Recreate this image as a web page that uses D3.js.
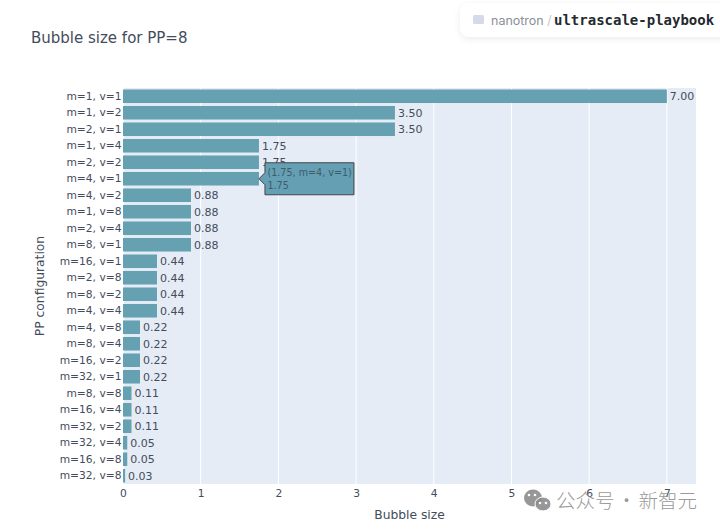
<!DOCTYPE html>
<html>
<head>
<meta charset="utf-8">
<script src="https://cdn.jsdelivr.net/npm/d3@7"></script>
<style>
  html, body { margin: 0; padding: 0; background: #fff; }
  svg { display: block; font-family: "DejaVu Sans", sans-serif; }
</style>
</head>
<body>
<svg width="720" height="530"></svg>
<script>
var configs = ["m=1, v=1","m=1, v=2","m=2, v=1","m=1, v=4","m=2, v=2","m=4, v=1","m=4, v=2","m=1, v=8",
  "m=2, v=4","m=8, v=1","m=16, v=1","m=2, v=8","m=8, v=2","m=4, v=4","m=4, v=8","m=8, v=4",
  "m=16, v=2","m=32, v=1","m=8, v=8","m=16, v=4","m=32, v=2","m=32, v=4","m=16, v=8","m=32, v=8"];
var bubbleSizes = [7, 3.5, 3.5, 1.75, 1.75, 1.75, 0.875, 0.875,
  0.875, 0.875, 0.4375, 0.4375, 0.4375, 0.4375, 0.21875, 0.21875,
  0.21875, 0.21875, 0.109375, 0.109375, 0.109375, 0.0546875, 0.0546875, 0.02734375];
var xTicks = [0, 1, 2, 3, 4, 5, 6, 7];
var hoverIndex = 5;

var textColor = "#444c5c";
var svg = d3.select("svg");

var xScale = d3.scaleLinear().domain([0, 7.375]).range([123, 696]);
var yScale = d3.scaleBand().domain(configs).range([88, 484]).paddingInner(0.18).paddingOuter(0.09);

svg.append("rect")
    .attr("x", 123).attr("y", 88)
    .attr("width", 573).attr("height", 396)
    .attr("fill", "#e5ecf6");

svg.selectAll(".grid")
    .data(xTicks)
    .enter()
    .append("line")
    .attr("class", "grid")
    .attr("x1", function(d) { return xScale(d); })
    .attr("x2", function(d) { return xScale(d); })
    .attr("y1", 88)
    .attr("y2", 484)
    .attr("stroke", "#fff")
    .attr("stroke-width", function(d) { return d === 0 ? 2 : 1; });

svg.selectAll(".bar")
    .data(configs)
    .enter()
    .append("rect")
    .attr("class", "bar")
    .attr("x", xScale(0))
    .attr("y", function(d) { return yScale(d); })
    .attr("width", function(d, i) { return xScale(bubbleSizes[i]) - xScale(0); })
    .attr("height", yScale.bandwidth())
    .attr("fill", "#66a1b2");

svg.selectAll(".value")
    .data(configs)
    .enter()
    .append("text")
    .attr("class", "value")
    .attr("x", function(d, i) { return xScale(bubbleSizes[i]) + 3; })
    .attr("y", function(d) { return yScale(d) + yScale.bandwidth() / 2 + 4; })
    .attr("font-size", 11)
    .attr("fill", textColor)
    .text(function(d, i) { return d3.format(".2f")(bubbleSizes[i]); });

var xAxis = svg.append("g")
    .attr("transform", "translate(0,484)")
    .call(d3.axisBottom(xScale).tickValues(xTicks).tickSize(0).tickPadding(5).tickFormat(d3.format("d")));
var yAxis = svg.append("g")
    .attr("transform", "translate(123.5,0)")
    .call(d3.axisLeft(yScale).tickSize(0).tickPadding(2));
[xAxis, yAxis].forEach(function(axis) {
    axis.select(".domain").remove();
    axis.selectAll("text")
        .attr("font-family", "DejaVu Sans")
        .attr("font-size", 10.7)
        .attr("fill", textColor);
});

svg.append("text")
    .attr("x", 31).attr("y", 43)
    .attr("font-size", 15)
    .attr("fill", textColor)
    .text("Bubble size for PP=8");

svg.append("text")
    .attr("x", 409.5).attr("y", 519)
    .attr("text-anchor", "middle")
    .attr("font-size", 12.3)
    .attr("fill", textColor)
    .text("Bubble size");

svg.append("text")
    .attr("transform", "translate(44,286) rotate(-90)")
    .attr("text-anchor", "middle")
    .attr("font-size", 12.3)
    .attr("fill", textColor)
    .text("PP configuration");

// hover label on m=4, v=1
var hx = xScale(bubbleSizes[hoverIndex]);
var hy = yScale(configs[hoverIndex]) + yScale.bandwidth() / 2;
var hover = svg.append("g").attr("transform", "translate(" + hx + "," + hy + ")");
hover.append("path")
    .attr("d", "M0,0 L6,-6 V-16 H95 V16 H6 V6 Z")
    .attr("fill", "#649fb3")
    .attr("stroke", "#444")
    .attr("stroke-width", 1);
hover.append("text")
    .attr("x", 8.5).attr("y", -3)
    .attr("font-size", 9.6)
    .attr("fill", "#3f5c6c")
    .text("(1.75, m=4, v=1)");
hover.append("text")
    .attr("x", 8.5).attr("y", 10.5)
    .attr("font-size", 9.6)
    .attr("fill", "#3f5c6c")
    .text("1.75");

// repo badge, top right
var defs = svg.append("defs");
var shadow = defs.append("filter").attr("id", "soft").attr("x", "-10%").attr("y", "-40%").attr("width", "120%").attr("height", "200%");
shadow.append("feDropShadow")
    .attr("dx", 0).attr("dy", 2).attr("stdDeviation", 3)
    .attr("flood-color", "#000").attr("flood-opacity", 0.08);
svg.append("rect")
    .attr("x", 460).attr("y", 3)
    .attr("width", 280).attr("height", 34)
    .attr("rx", 9)
    .attr("fill", "#fff")
    .attr("filter", "url(#soft)");
svg.append("rect")
    .attr("x", 473).attr("y", 15)
    .attr("width", 11).attr("height", 9)
    .attr("rx", 1.5)
    .attr("fill", "#d5d9ea");
svg.append("text")
    .attr("x", 491).attr("y", 25)
    .attr("font-family", "Inter")
    .attr("font-size", 12.5)
    .attr("fill", "#8a8f98")
    .text("nanotron");
svg.append("text")
    .attr("x", 547).attr("y", 25)
    .attr("font-family", "Inter")
    .attr("font-size", 13)
    .attr("fill", "#c8ccd2")
    .text("/");
svg.append("text")
    .attr("x", 554).attr("y", 25)
    .attr("font-family", "DejaVu Sans Mono")
    .attr("font-weight", "bold")
    .attr("font-size", 14)
    .attr("fill", "#24292f")
    .text("ultrascale-playbook");

// watermark
var mark = svg.append("g").attr("fill", "#8c8c8c").attr("fill-opacity", 0.9);
mark.append("ellipse").attr("cx", 533).attr("cy", 498).attr("rx", 9).attr("ry", 8.5);
mark.append("ellipse").attr("cx", 543).attr("cy", 504).attr("rx", 8).attr("ry", 7).attr("stroke", "#fff").attr("stroke-width", 1);
var eyes = svg.append("g").attr("fill", "#fff");
[[529, 495], [535, 495], [540, 503], [546, 503]].forEach(function(e) {
    eyes.append("circle").attr("cx", e[0]).attr("cy", e[1]).attr("r", 1.3);
});
svg.append("text")
    .attr("x", 556).attr("y", 508)
    .attr("font-family", "Noto Sans CJK SC")
    .attr("font-weight", 300)
    .attr("font-size", 19.5)
    .attr("word-spacing", -2)
    .attr("fill", "#8c8c8c")
    .attr("fill-opacity", 0.9)
    .text("公众号 · 新智元");
</script>
</body>
</html>
